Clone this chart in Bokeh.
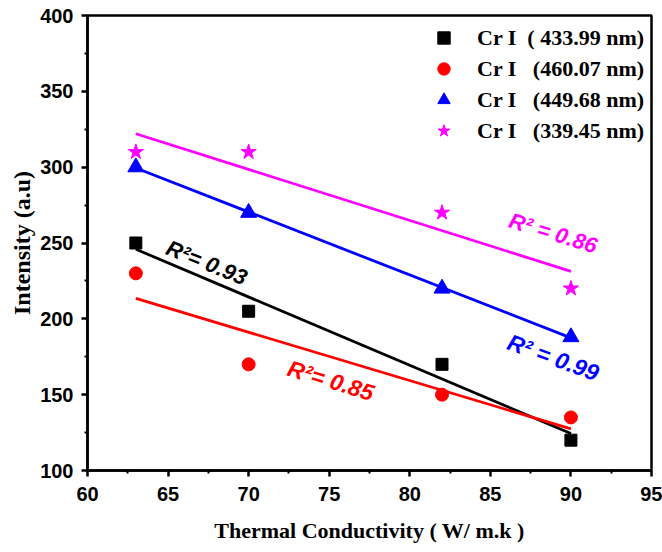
import numpy as np
from bokeh.plotting import figure
from bokeh.models import Legend, LegendItem, FixedTicker, Range1d
from bokeh.core.properties import value
from bokeh.embed import file_html
from bokeh.resources import INLINE

# Data
x_vals = [63, 70, 82, 90]
cr_433 = [250, 205, 170, 120]
cr_460 = [230, 170, 150, 135]
cr_449 = [300, 270, 220, 188]
cr_339 = [310, 310, 270, 220]

labels = ["Cr I\u00a0\u00a0( 433.99 nm)", "Cr I\u00a0\u00a0\u00a0(460.07 nm)",
          "Cr I\u00a0\u00a0\u00a0(449.68 nm)", "Cr I\u00a0\u00a0\u00a0(339.45 nm)"]
r2_texts = ["R\u00b2= 0.93", "R\u00b2= 0.85", "R\u00b2 = 0.99", "R\u00b2 = 0.86"]
r2_x = [67.4, 75.1, 88.9, 88.9]
r2_y = [237.0, 159.3, 174.5, 256.5]
r2_angle = [-22, -17, -20, -17]
r2_size = ["22px", "23px", "23px", "22px"]

x_ticks = [60, 65, 70, 75, 80, 85, 90, 95]
y_ticks = [100, 150, 200, 250, 300, 350, 400]

colors = ["#000000", "#ff0000", "#0000ff", "#ff00ff"]
markers = ["square", "circle", "triangle", "star"]
sizes = [12, 13, 16, 16]
series = [cr_433, cr_460, cr_449, cr_339]

p = figure(width=662, height=552, output_backend="svg", toolbar_location=None,
           x_range=Range1d(60, 95), y_range=Range1d(100, 400))
p.min_border_left = 87
p.min_border_right = 11
p.min_border_top = 15
p.min_border_bottom = 82

p.grid.visible = False
p.outline_line_color = "black"
p.outline_line_width = 2.5
p.background_fill_color = "white"
p.border_fill_color = "white"

for ax in (p.xaxis[0], p.yaxis[0]):
    ax.axis_line_width = 2.5
    ax.major_tick_line_width = 2.5
    ax.minor_tick_line_width = 2
    ax.major_tick_out = 6
    ax.major_tick_in = 0
    ax.minor_tick_out = 3
    ax.minor_tick_in = 0
    ax.major_label_text_font = "Liberation Sans"
    ax.major_label_text_font_style = "bold"
    ax.major_label_text_font_size = "20px"
    ax.major_label_text_color = "black"
    ax.axis_label_text_font = "Liberation Serif"
    ax.axis_label_text_font_style = "bold"
    ax.axis_label_text_color = "black"

p.xaxis.axis_label_text_font_size = "22px"
p.yaxis.axis_label_text_font_size = "24px"
p.xaxis[0].ticker = FixedTicker(ticks=x_ticks, minor_ticks=[t + 2.5 for t in x_ticks[:-1]])
p.yaxis[0].ticker = FixedTicker(ticks=y_ticks, minor_ticks=[t + 25 for t in y_ticks[:-1]])
p.xaxis.axis_label = "Thermal Conductivity ( W/ m.k )"
p.yaxis.axis_label = "Intensity (a.u)"
p.xaxis.major_label_standoff = 10
p.yaxis.major_label_standoff = 8
p.xaxis.axis_label_standoff = 14
p.yaxis.axis_label_standoff = 2

items = []
for ys, c, m, s, lab in zip(series, colors, markers, sizes, labels):
    coef = np.polyfit(x_vals, ys, 1)
    xf = np.array([x_vals[0], x_vals[-1]])
    p.line(xf, np.polyval(coef, xf), line_color=c, line_width=2.8)
    r = p.scatter(x_vals, ys, marker=m, size=s, fill_color=c, line_color=c)
    items.append(LegendItem(label=lab, renderers=[r]))

for t, xx, yy, a, c, fs in zip(r2_texts, r2_x, r2_y, r2_angle, colors, r2_size):
    p.text(x=[xx], y=[yy], text=[t], angle=a, angle_units="deg",
           text_font=value("Liberation Sans"), text_font_style="bold italic",
           text_font_size=fs, text_color=c, text_align="center", text_baseline="middle")

legend = Legend(items=items, location=(341, 324))
legend.border_line_color = None
legend.background_fill_alpha = 0
legend.padding = 0
legend.margin = 0
legend.spacing = 0
legend.glyph_width = 31
legend.glyph_height = 31
legend.label_height = 31
legend.label_standoff = 18
legend.label_text_font = "Liberation Serif"
legend.label_text_font_style = "bold"
legend.label_text_font_size = "22px"
legend.label_text_color = "black"
p.add_layout(legend)

open("out.html", "w").write(file_html(p, INLINE))
